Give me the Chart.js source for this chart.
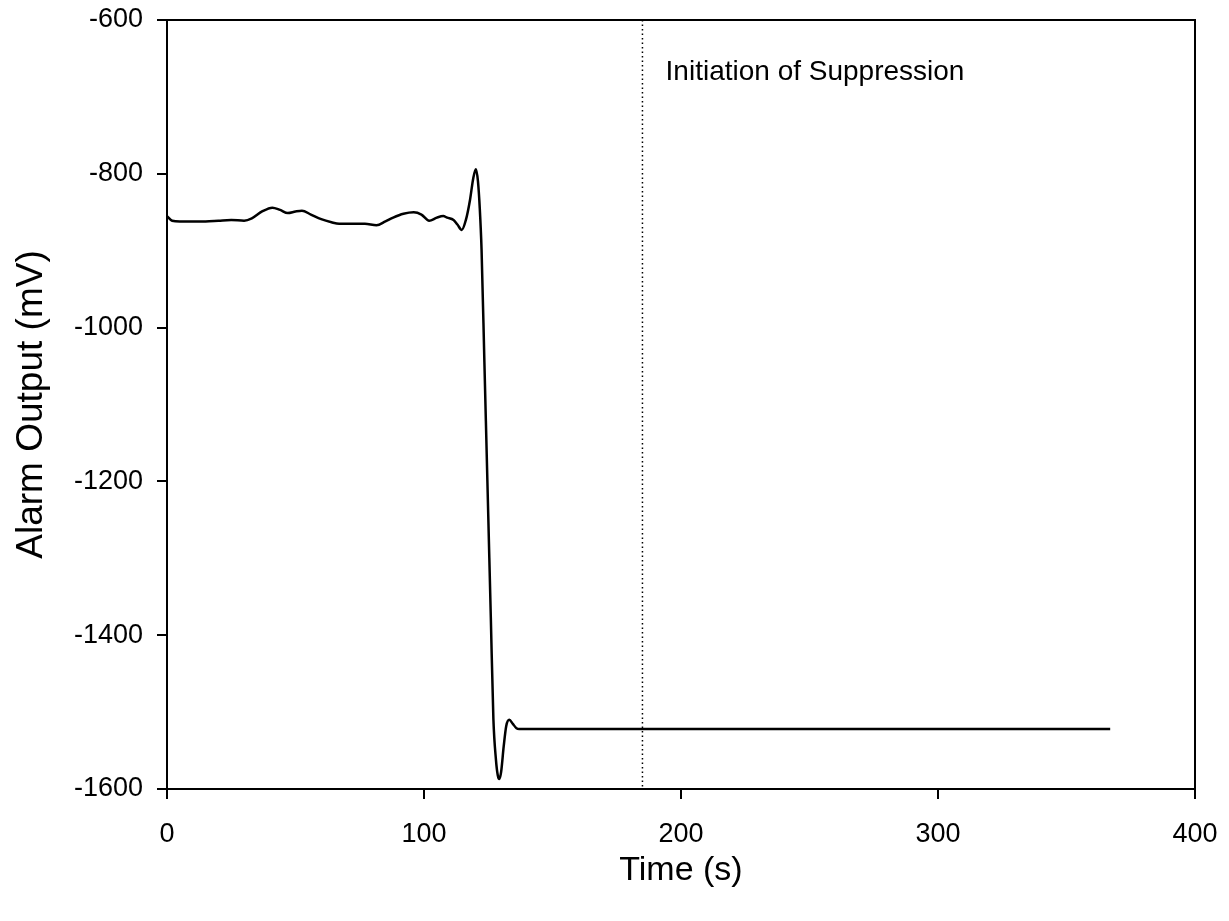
<!DOCTYPE html>
<html lang="en">
<head>
  <meta charset="UTF-8" />
  <title>Alarm Output vs Time</title>
  <script src="https://cdn.jsdelivr.net/npm/chart.js"></script>
  <style>
    html, body { margin: 0; padding: 0; background: #fff; }
    #wrap { position: relative; width: 1229px; height: 921px; }
  </style>
</head>
<body>
  <div id="wrap"><canvas id="alarmChart"></canvas></div>
  <script>
    // time (s) and alarm output (mV)
    const timeS = [0, 2, 5, 10, 15, 20, 25, 30, 33, 37, 41, 44, 47, 50, 52.5, 56, 60, 64, 67, 72, 77, 81.5, 85, 88, 92, 96, 99, 102, 105, 107.5, 109, 111.5, 113, 114.7, 116.3, 117.9, 119.2, 120.2, 121, 121.7, 122.4, 123.5, 125, 126, 127, 128, 128.7, 129.3, 130, 131, 132, 133.2, 134.5, 136, 137, 367];
    const alarmMv = [-855, -861, -862, -862, -862, -861, -860, -861, -858, -849, -844, -847, -851, -849, -848, -853, -859, -863, -865, -865, -865, -867, -862, -857, -852, -850, -853, -861, -857, -855, -857, -860, -866, -873, -860, -834, -805, -794, -810, -845, -899, -1045, -1244, -1377, -1509, -1562, -1582, -1587, -1578, -1545, -1518, -1510, -1515, -1521, -1522, -1522];

    const suppressionTime = 185;
    const noteText = 'Initiation of Suppression';
    const noteAt = { x: 194, y: -668 };

    const xTicks = [0, 100, 200, 300, 400];
    const yTicks = [-600, -800, -1000, -1200, -1400, -1600];

    const fontFamily = '"Liberation Sans", Arial, sans-serif';

    const frameAndNote = {
      id: 'frameAndNote',
      afterDatasetsDraw(chart) {
        const { ctx, chartArea, scales } = chart;
        ctx.save();
        ctx.strokeStyle = '#000';
        ctx.lineWidth = 2;
        ctx.strokeRect(chartArea.left, chartArea.top, chartArea.right - chartArea.left, chartArea.bottom - chartArea.top);
        ctx.fillStyle = '#000';
        ctx.font = '28px ' + fontFamily;
        ctx.textAlign = 'left';
        ctx.textBaseline = 'middle';
        ctx.fillText(noteText, scales.x.getPixelForValue(noteAt.x), scales.y.getPixelForValue(noteAt.y));
        ctx.restore();
      }
    };

    new Chart(document.getElementById('alarmChart'), {
      type: 'line',
      data: {
        datasets: [
          {
            data: timeS.map((t, i) => ({ x: t, y: alarmMv[i] })),
            borderColor: '#000',
            borderWidth: 2.5,
            pointRadius: 0,
            fill: false,
            cubicInterpolationMode: 'monotone'
          },
          {
            data: [{ x: suppressionTime, y: yTicks[0] }, { x: suppressionTime, y: yTicks[yTicks.length - 1] }],
            borderColor: '#000',
            borderWidth: 1.5,
            borderDash: [1.5, 3],
            pointRadius: 0,
            fill: false
          }
        ]
      },
      options: {
        responsive: true,
        maintainAspectRatio: false,
        animation: false,
        layout: { padding: { left: 0, right: 34, top: 20, bottom: 0 } },
        plugins: { legend: { display: false }, tooltip: { enabled: false } },
        scales: {
          x: {
            type: 'linear',
            min: 0,
            max: 400,
            afterBuildTicks: s => { s.ticks = xTicks.map(v => ({ value: v })); },
            afterFit: s => { s.height = 132; s.paddingLeft = 0; s.paddingRight = 0; },
            grid: { drawOnChartArea: false, drawTicks: true, tickLength: 10, color: '#000', lineWidth: 2 },
            border: { display: true, color: '#000', width: 2 },
            ticks: { color: '#000', font: { family: fontFamily, size: 27 }, padding: 19, maxRotation: 0, callback: v => String(v) },
            title: { display: true, text: 'Time (s)', color: '#000', font: { family: fontFamily, size: 34 }, padding: { top: 0, bottom: 30 } }
          },
          y: {
            type: 'linear',
            min: -1600,
            max: -600,
            afterBuildTicks: s => { s.ticks = yTicks.map(v => ({ value: v })); },
            afterFit: s => { s.width = 167; s.paddingTop = 0; s.paddingBottom = 0; },
            grid: { drawOnChartArea: false, drawTicks: true, tickLength: 10, color: '#000', lineWidth: 2 },
            border: { display: true, color: '#000', width: 2 },
            ticks: { color: '#000', font: { family: fontFamily, size: 27 }, padding: 14, callback: v => String(v) },
            title: { display: true, text: 'Alarm Output (mV)', color: '#000', font: { family: fontFamily, size: 37 }, padding: { top: 10, bottom: 0 } }
          }
        }
      },
      plugins: [frameAndNote]
    });
  </script>
</body>
</html>
